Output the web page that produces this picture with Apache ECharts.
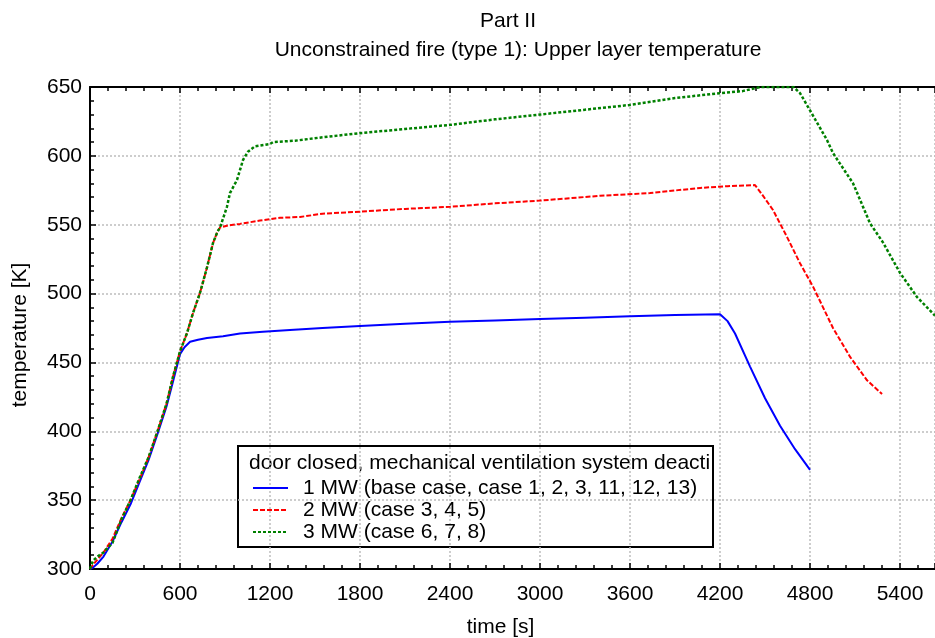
<!DOCTYPE html>
<html>
<head>
<meta charset="utf-8">
<script src="https://cdn.jsdelivr.net/npm/echarts@6/dist/echarts.min.js"></script>
<style>
  html, body { margin: 0; padding: 0; background: #fff; }
  #chart { width: 935px; height: 638px; }
</style>
</head>
<body>
<div id="chart"></div>
<script>
// 1 MW (base case)
var blueTime = [0, 20, 50, 90, 150, 210, 270, 330, 390, 450, 510, 553, 600, 630, 667, 720, 780, 887, 1000, 1153, 1333, 1550, 1800, 2100, 2400, 2700, 3000, 3300, 3600, 3900, 4200, 4250, 4300, 4400, 4500, 4600, 4700, 4800];
var blueTemp = [300, 301, 304, 309, 320, 334, 347, 363, 379, 398, 418, 436, 456, 461, 465, 466.5, 467.8, 469, 471, 472.2, 473.6, 475, 476.5, 478, 479.5, 480.5, 481.5, 482.5, 483.5, 484.5, 485, 480, 471, 447, 424, 404, 387, 372];

// 2 MW
var redTime = [0, 20, 50, 90, 150, 210, 270, 330, 390, 450, 510, 553, 600, 647, 687, 733, 780, 820, 850, 867, 920, 1000, 1133, 1267, 1400, 1550, 1800, 2100, 2400, 2700, 3000, 3400, 3733, 4067, 4250, 4433, 4480, 4553, 4647, 4733, 4820, 4953, 5067, 5180, 5280];
var redTemp = [300, 303, 307, 312, 322, 337, 350, 365, 381, 400, 420, 439.5, 458, 471.4, 486, 500.4, 519, 536.7, 545, 548, 549.5, 550.6, 553, 555, 555.6, 558, 559.5, 561.5, 563, 565.5, 567.5, 571, 573, 576.7, 578, 578.8, 572, 560.7, 541, 522, 505, 475, 454, 437, 427];

// 3 MW
var greenTime = [0, 20, 50, 90, 150, 210, 270, 330, 390, 450, 510, 553, 600, 647, 687, 733, 780, 820, 850, 867, 913, 933, 980, 1020, 1053, 1100, 1200, 1220, 1367, 1550, 1800, 2100, 2400, 2700, 3000, 3300, 3600, 3900, 4200, 4350, 4470, 4690, 4733, 4800, 4913, 4953, 5087, 5200, 5287, 5400, 5513, 5633];
var greenTemp = [300, 306, 309, 312, 319, 336, 350, 366, 381, 400, 420, 439.5, 458, 471.4, 486, 500.4, 519, 536.7, 545, 548, 563, 573, 582.5, 597, 603, 607, 608.6, 610, 611, 613.5, 616.5, 619.5, 622.5, 626.5, 630, 633.5, 637, 642, 645.5, 647, 650, 650, 645.6, 633, 611.5, 602, 580, 551, 537, 515, 497.5, 484];

var seriesNames = ['1 MW (base case, case 1, 2, 3, 11, 12, 13)', '2 MW (case 3, 4, 5)', '3 MW (case 6, 7, 8)'];
var legendTitle = 'door closed, mechanical ventilation system deacti';
var xMax = 5633;

function pairs(xs, ys) {
    return xs.map(function (x, i) { return [x, ys[i]]; });
}

var font = 'Liberation Sans';
var fs = 21;
var myChart = echarts.init(document.getElementById('chart'));
option = {
    animation: false,
    backgroundColor: '#fff',
    textStyle: { fontFamily: font },
    title: [{
        text: 'Part II',
        left: 503, top: 6, textAlign: 'center',
        textStyle: { fontFamily: font, fontSize: fs, fontWeight: 'normal', color: '#000' }
    }, {
        text: 'Unconstrained fire (type 1): Upper layer temperature',
        left: 513, top: 35, textAlign: 'center',
        textStyle: { fontFamily: font, fontSize: fs, fontWeight: 'normal', color: '#000' }
    }],
    grid: { left: 90, top: 87, right: 0, bottom: 69, containLabel: false, outerBoundsMode: 'none' },
    legend: {
        data: seriesNames,
        orient: 'vertical',
        left: 252, top: 477, padding: 0,
        itemWidth: 35, itemHeight: 14, itemGap: 0,
        itemStyle: { opacity: 0 },
        textStyle: { fontFamily: font, fontSize: fs, color: '#000', lineHeight: 22, padding: [0, 0, 0, 10] },
        selectedMode: false
    },
    graphic: {
        z: 3,
        elements: [{
            type: 'rect',
            shape: { x: 238, y: 446, width: 475, height: 101 },
            style: { fill: '#fff', stroke: '#000', lineWidth: 2 }
        }, {
            type: 'text',
            x: 249, y: 463,
            style: {
                text: legendTitle, fontFamily: font, fontSize: fs, fill: '#000',
                verticalAlign: 'middle'
            }
        }]
    },
    xAxis: [{
        type: 'value',
        min: 0, max: xMax, interval: 600,
        name: 'time [s]', nameLocation: 'middle', nameGap: 48,
        nameTextStyle: { fontFamily: font, fontSize: fs, color: '#000', padding: [0, 24, 0, 0] },
        axisLine: { onZero: false, lineStyle: { color: '#000', width: 2 } },
        axisTick: { inside: true, length: 6, lineStyle: { color: '#000', width: 1.5 } },
        minorTick: { show: true, splitNumber: 5, length: 4, lineStyle: { color: '#000', width: 1.5 } },
        axisLabel: {
            fontFamily: font, fontSize: fs, color: '#000', margin: 15, showMaxLabel: false,
            formatter: function (v) { return v % 600 === 0 ? String(v) : ''; }
        },
        splitLine: { show: true, lineStyle: { color: '#bdbdbd', width: 1.5, type: [2, 2] } }
    }, {
        type: 'value',
        position: 'top',
        min: 0, max: xMax, interval: 600,
        axisLine: { onZero: false, lineStyle: { color: '#000', width: 2 } },
        axisTick: { inside: true, length: 6, lineStyle: { color: '#000', width: 1.5 } },
        minorTick: { show: true, splitNumber: 5, length: 4, lineStyle: { color: '#000', width: 1.5 } },
        axisLabel: { show: false },
        splitLine: { show: false }
    }],
    yAxis: {
        type: 'value',
        min: 300, max: 650, interval: 50,
        name: 'temperature [K]', nameLocation: 'middle', nameGap: 59,
        nameTextStyle: { fontFamily: font, fontSize: fs, color: '#000', padding: [0, 14, 0, 0] },
        axisLine: { show: true, onZero: false, lineStyle: { color: '#000', width: 2 } },
        axisTick: { inside: true, length: 6, lineStyle: { color: '#000', width: 1.5 } },
        minorTick: { show: true, splitNumber: 5, length: 4, lineStyle: { color: '#000', width: 1.5 } },
        axisLabel: { fontFamily: font, fontSize: fs, color: '#000', margin: 8 },
        splitLine: { show: true, lineStyle: { color: '#bdbdbd', width: 1.5, type: [2, 2] } }
    },
    series: [{
        name: seriesNames[0],
        type: 'line',
        data: pairs(blueTime, blueTemp),
        showSymbol: false, symbol: 'none',
        color: '#0000ff',
        lineStyle: { color: '#0000ff', width: 2, type: 'solid' }
    }, {
        name: seriesNames[1],
        type: 'line',
        data: pairs(redTime, redTemp),
        showSymbol: false, symbol: 'none',
        color: '#ff0000',
        lineStyle: { color: '#ff0000', width: 2, type: [5, 2] }
    }, {
        name: seriesNames[2],
        type: 'line',
        data: pairs(greenTime, greenTemp),
        showSymbol: false, symbol: 'none',
        color: '#008000',
        lineStyle: { color: '#008000', width: 2.5, type: [3, 2] }
    }]
};
myChart.setOption(option);
</script>
</body>
</html>
